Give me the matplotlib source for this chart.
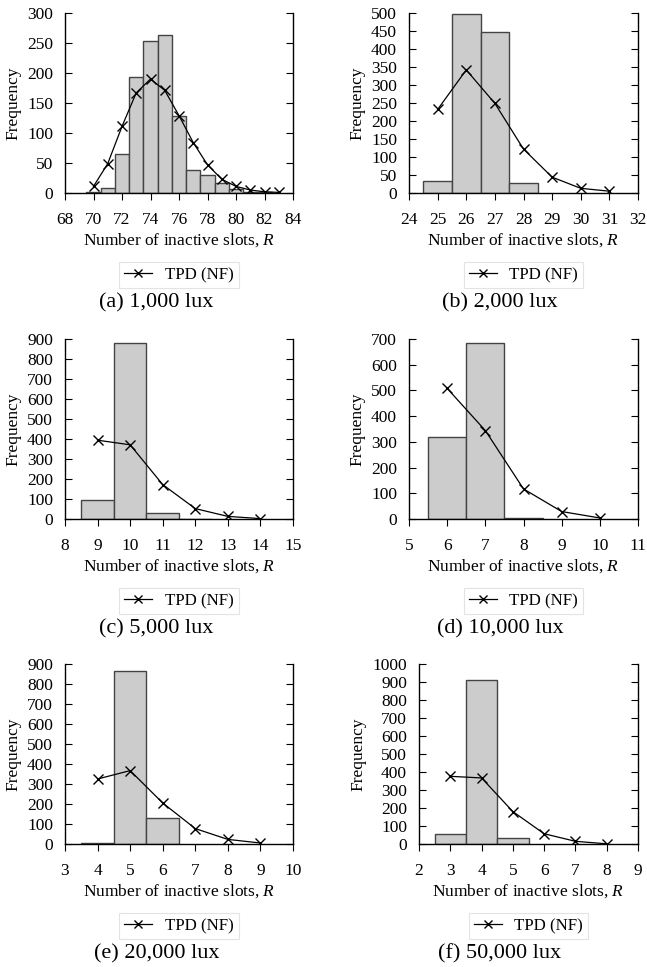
import matplotlib
matplotlib.use('Agg')
import matplotlib.pyplot as plt
import numpy as np

plt.rcParams['font.family'] = ['Liberation Serif', 'DejaVu Serif']
plt.rcParams['mathtext.fontset'] = 'custom'
plt.rcParams['mathtext.it'] = 'Liberation Serif:italic'
plt.rcParams['mathtext.rm'] = 'Liberation Serif'

# histogram data (simulated) per light level
hist_a_x = [70, 71, 72, 73, 74, 75, 76, 77, 78, 79, 80, 81, 82]
hist_a_y = [2, 9, 65, 193, 254, 263, 128, 38, 30, 17, 7, 2, 1]
hist_b_x = [25, 26, 27, 28]
hist_b_y = [33, 498, 448, 28]
hist_c_x = [9, 10, 11, 12]
hist_c_y = [95, 878, 32, 1]
hist_d_x = [6, 7, 8]
hist_d_y = [318, 686, 2]
hist_e_x = [4, 5, 6]
hist_e_y = [5, 867, 130]
hist_f_x = [3, 4, 5]
hist_f_y = [54, 912, 31]

# TPD (NF) model points
tpd_a_x = [70, 71, 72, 73, 74, 75, 76, 77, 78, 79, 80, 81, 82, 83]
tpd_a_y = [11, 49, 111, 167, 190, 171, 129, 84, 47, 23, 11, 5, 2, 1]
tpd_b_x = [25, 26, 27, 28, 29, 30, 31]
tpd_b_y = [232, 342, 249, 122, 44, 13, 5]
tpd_c_x = [9, 10, 11, 12, 13, 14]
tpd_c_y = [394, 371, 172, 52, 13, 2]
tpd_d_x = [6, 7, 8, 9, 10]
tpd_d_y = [508, 344, 117, 29, 4]
tpd_e_x = [4, 5, 6, 7, 8, 9]
tpd_e_y = [325, 367, 205, 77, 23, 5]
tpd_f_x = [3, 4, 5, 6, 7, 8]
tpd_f_y = [376, 367, 180, 57, 15, 1]

captions = ['(a) 1,000 lux', '(b) 2,000 lux', '(c) 5,000 lux',
            '(d) 10,000 lux', '(e) 20,000 lux', '(f) 50,000 lux']

W, H = 647, 967
fig = plt.figure(figsize=(W / 100, H / 100), dpi=100)

# axes boxes in pixels: left, right, top, bottom
boxes = [(65, 293, 13, 193), (409, 638, 13, 193),
         (65, 293, 339, 519), (409, 638, 339, 519),
         (65, 293, 664, 844), (419, 638, 664, 844)]
caption_x = [156, 500, 156, 500, 157, 500]

panels = [
    (hist_a_x, hist_a_y, tpd_a_x, tpd_a_y, (68, 84, 2), (0, 300, 50)),
    (hist_b_x, hist_b_y, tpd_b_x, tpd_b_y, (24, 32, 1), (0, 500, 50)),
    (hist_c_x, hist_c_y, tpd_c_x, tpd_c_y, (8, 15, 1), (0, 900, 100)),
    (hist_d_x, hist_d_y, tpd_d_x, tpd_d_y, (5, 11, 1), (0, 700, 100)),
    (hist_e_x, hist_e_y, tpd_e_x, tpd_e_y, (3, 10, 1), (0, 900, 100)),
    (hist_f_x, hist_f_y, tpd_f_x, tpd_f_y, (2, 9, 1), (0, 1000, 100)),
]

fs = 12.5
for i, (hx, hy, tx, ty, xl, yl) in enumerate(panels):
    l, r, t, b = boxes[i]
    ax = fig.add_axes([l / W, 1 - b / H, (r - l) / W, (b - t) / H])
    ax.bar(hx, hy, width=1.0, color='#cccccc', edgecolor='#444444', linewidth=1.0, zorder=2)
    line, = ax.plot(tx, ty, color='black', linewidth=0.9, marker='x', markersize=7,
                    markeredgewidth=1.0, label='TPD (NF)', zorder=3)
    ax.set_xlim(xl[0], xl[1])
    ax.set_ylim(yl[0], yl[1])
    ax.set_xticks(np.arange(xl[0], xl[1] + 0.01, xl[2]))
    ax.set_yticks(np.arange(yl[0], yl[1] + 0.01, yl[2]))
    ax.spines['top'].set_visible(False)
    for s in ['left', 'right', 'bottom']:
        ax.spines[s].set_linewidth(1.0)
    ax.tick_params(axis='y', direction='in', left=True, right=True, length=5,
                   labelsize=fs, pad=8.6)
    ax.tick_params(axis='x', direction='out', length=5, labelsize=fs, pad=9)
    ax.set_xlabel('Number of inactive slots, $R$', fontsize=fs, labelpad=2)
    ax.set_ylabel('Frequency', fontsize=fs, labelpad=4)

    cx = (l + r) / 2
    leg = fig.legend(handles=[line], loc='upper center',
                     bbox_to_anchor=(cx / W, 1 - (b + 69) / H),
                     fontsize=12.2, frameon=True, fancybox=False,
                     edgecolor='#dddddd', borderpad=0.3, handlelength=1.65,
                     handletextpad=0.75, borderaxespad=0, markerscale=0.75)
    leg.get_frame().set_linewidth(0.8)
    fig.text(caption_x[i] / W, 1 - (b + 110) / H, captions[i], fontsize=16,
             ha='center', va='center')

fig.savefig('out.png', dpi=100)
